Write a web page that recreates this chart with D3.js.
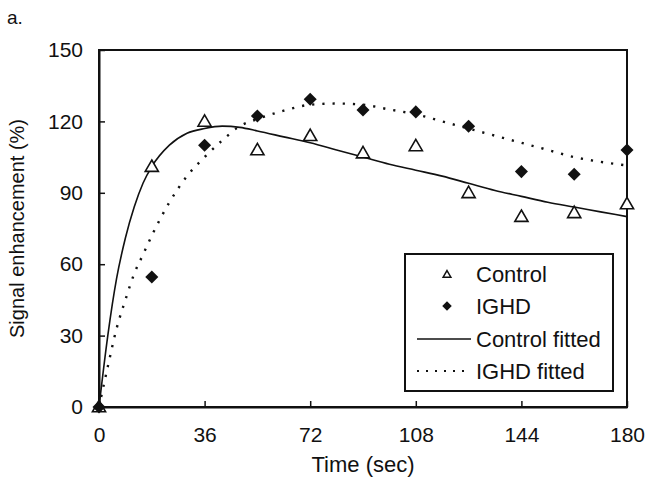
<!DOCTYPE html>
<html>
<head>
<meta charset="utf-8">
<script src="https://cdn.jsdelivr.net/npm/d3@7"></script>
<style>
  body { margin: 0; background: #fff; }
  svg text { font-family: "Liberation Sans", Arial, sans-serif; fill: #111; }
</style>
</head>
<body>
<div class="chart"></div>
<script>
// Data.
let times = [0, 18, 36, 54, 72, 90, 108, 126, 144, 162, 180];
let controlValues = [0, 101, 120, 108, 114, 106.7, 109.7, 90, 80, 81.6, 85.3];
let ighdValues = [0, 54.6, 110, 122.3, 129.3, 124.8, 124, 118, 98.9, 97.8, 108];

// Fitted curves.
let fitTimes = [0, 3, 6, 9, 12, 15, 18, 24, 30, 36, 42, 48, 54, 63, 72, 81, 90, 99, 108, 117, 126, 135, 144, 153, 162, 171, 180];
let controlFitted = [0, 30, 54, 71, 84, 94, 101, 110, 115, 117, 118, 117.5, 116, 113.5, 111, 108, 105, 102, 99.5, 97, 94, 91, 88.5, 86, 84, 82, 80];
let ighdFitted = [0, 17, 33, 45, 56, 64, 72, 86, 97, 105, 112, 118, 121, 124.5, 127, 127.5, 127, 125, 123, 120, 117, 114, 111, 108, 105, 103, 101.5];

let xTicks = [0, 36, 72, 108, 144, 180];
let yTicks = [0, 30, 60, 90, 120, 150];

let legendItems = ['Control', 'IGHD', 'Control fitted', 'IGHD fitted'];

// Build constants.
let width = 650,
    height = 479,
    margin = {top: 50, right: 23, bottom: 72, left: 99};

let svg = d3.select('.chart')
    .append('svg')
        .attr('width', width)
        .attr('height', height);

let x = d3.scaleLinear()
    .domain([0, 180])
    .range([margin.left, width - margin.right]);

let y = d3.scaleLinear()
    .domain([0, 150])
    .range([height - margin.bottom, margin.top]);

// Frame.
svg.append('rect')
    .attr('x', x(0))
    .attr('y', y(150))
    .attr('width', x(180) - x(0))
    .attr('height', y(0) - y(150))
    .attr('fill', 'none')
    .attr('stroke', '#111')
    .attr('stroke-width', 2);

// Axes with inward ticks.
let xAxis = svg.append('g')
    .attr('transform', `translate(0, ${y(0)})`)
    .call(d3.axisBottom(x).tickValues(xTicks).tickSizeInner(-6).tickSizeOuter(0).tickPadding(20));

let yAxis = svg.append('g')
    .attr('transform', `translate(${x(0)}, 0)`)
    .call(d3.axisLeft(y).tickValues(yTicks).tickSizeInner(-6).tickSizeOuter(0).tickPadding(16));

[xAxis, yAxis].forEach(g => {
    g.select('.domain').attr('stroke', '#111').attr('stroke-width', 2);
    g.selectAll('.tick line').attr('stroke', '#111').attr('stroke-width', 1.5);
    g.selectAll('.tick text')
        .attr('font-size', 21)
        .attr('font-family', '"Liberation Sans", Arial, sans-serif')
        .attr('fill', '#111');
});

// Axis titles.
svg.append('text')
    .attr('x', (x(0) + x(180)) / 2)
    .attr('y', 472)
    .attr('text-anchor', 'middle')
    .attr('font-size', 22)
    .text('Time (sec)');

svg.append('text')
    .attr('transform', `translate(24, ${(y(0) + y(150)) / 2}) rotate(-90)`)
    .attr('text-anchor', 'middle')
    .attr('font-size', 20)
    .text('Signal enhancement (%)');

svg.append('text')
    .attr('x', 7)
    .attr('y', 24)
    .attr('font-size', 19)
    .text('a.');

// Fitted lines.
let line = d3.line()
    .x(d => x(d[0]))
    .y(d => y(d[1]))
    .curve(d3.curveMonotoneX);

svg.append('path')
    .datum(fitTimes.map((t, i) => [t, controlFitted[i]]))
    .attr('d', line)
    .attr('fill', 'none')
    .attr('stroke', '#111')
    .attr('stroke-width', 1.6);

svg.append('path')
    .datum(fitTimes.map((t, i) => [t, ighdFitted[i]]))
    .attr('d', line)
    .attr('fill', 'none')
    .attr('stroke', '#111')
    .attr('stroke-width', 2.4)
    .attr('stroke-dasharray', '2.2,8');

// Markers.
let triangle = d3.symbol().type(d3.symbolTriangle).size(75);
let diamond = d3.symbol().type(d3.symbolSquare).size(85);

svg.selectAll('.control')
    .data(times.map((t, i) => [t, controlValues[i]]))
    .join('path')
        .attr('class', 'control')
        .attr('d', triangle)
        .attr('transform', d => `translate(${x(d[0])}, ${y(d[1]) + 1})`)
        .attr('fill', '#fff')
        .attr('stroke', '#111')
        .attr('stroke-width', 1.6);

svg.selectAll('.ighd')
    .data(times.map((t, i) => [t, ighdValues[i]]))
    .join('path')
        .attr('class', 'ighd')
        .attr('d', diamond)
        .attr('transform', d => `translate(${x(d[0])}, ${y(d[1])}) rotate(45)`)
        .attr('fill', '#111');

// Legend.
let legend = svg.append('g');

legend.append('rect')
    .attr('x', 405)
    .attr('y', 254)
    .attr('width', 208)
    .attr('height', 137)
    .attr('fill', '#fff')
    .attr('stroke', '#111')
    .attr('stroke-width', 2);

let rowY = [274, 306, 339, 371];

legend.selectAll('.legend-label')
    .data(legendItems)
    .join('text')
        .attr('class', 'legend-label')
        .attr('x', 476)
        .attr('y', (d, i) => rowY[i] + 8)
        .attr('font-size', 22)
        .text(d => d);

legend.append('path')
    .attr('d', d3.symbol().type(d3.symbolTriangle).size(26))
    .attr('transform', `translate(447, ${rowY[0] + 1})`)
    .attr('fill', '#fff')
    .attr('stroke', '#111')
    .attr('stroke-width', 1.5);

legend.append('path')
    .attr('d', d3.symbol().type(d3.symbolSquare).size(45))
    .attr('transform', `translate(447, ${rowY[1]}) rotate(45)`)
    .attr('fill', '#111');

legend.append('line')
    .attr('x1', 417).attr('x2', 471)
    .attr('y1', rowY[2]).attr('y2', rowY[2])
    .attr('stroke', '#111')
    .attr('stroke-width', 1.6);

legend.append('line')
    .attr('x1', 417).attr('x2', 471)
    .attr('y1', rowY[3]).attr('y2', rowY[3])
    .attr('stroke', '#111')
    .attr('stroke-width', 2)
    .attr('stroke-dasharray', '2,7');
</script>
</body>
</html>
